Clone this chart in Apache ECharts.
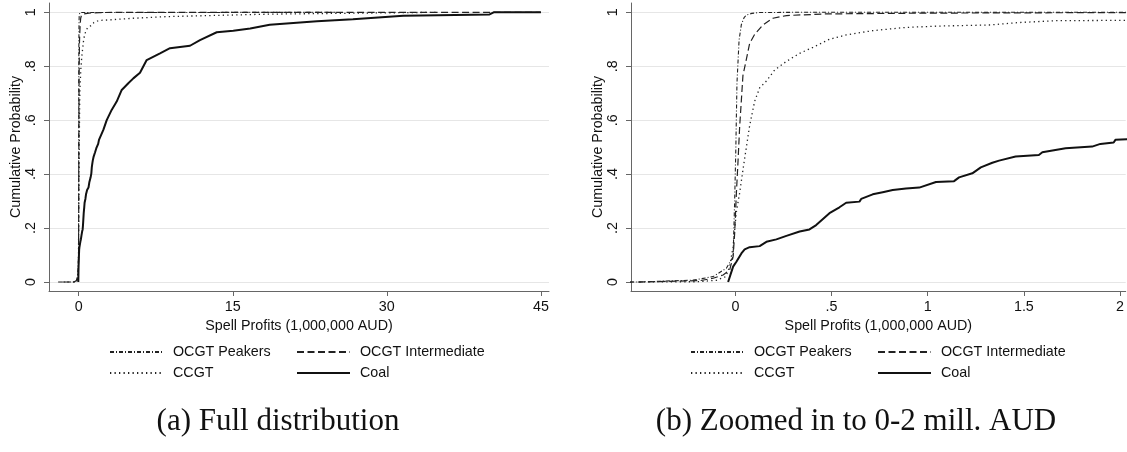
<!DOCTYPE html>
<html>
<head>
<meta charset="utf-8">
<script src="https://cdn.jsdelivr.net/npm/echarts@6/dist/echarts.min.js"></script>
<style>html,body{margin:0;padding:0;background:#fff}#c{width:1127px;height:452px}</style>
</head>
<body>
<div id="c"></div>
<script>
// ---- data (x = spell profits in million AUD, y = cumulative probability) ----
const seriesNames = ['OCGT Peakers', 'OCGT Intermediate', 'CCGT', 'Coal'];
const ocgtPeakers = [[-2.0,0],[-0.5,0],[-0.22,0.007],[-0.116,0.02],[-0.047,0.051],[-0.012,0.094],[-0.004,0.30],[0.002,0.49],[0.008,0.737],[0.019,0.897],[0.031,0.955],[0.045,0.98],[0.057,0.99],[0.085,0.996],[0.12,0.999],[0.3,1],[25,1]];
const ocgtIntermediate = [[-1.6,0],[-0.5,0],[-0.185,0.005],[-0.116,0.014],[-0.064,0.026],[-0.03,0.044],[-0.012,0.094],[-0.004,0.18],[0.005,0.33],[0.013,0.44],[0.022,0.575],[0.031,0.675],[0.039,0.765],[0.057,0.826],[0.074,0.885],[0.1,0.918],[0.143,0.953],[0.195,0.978],[0.265,0.988],[0.47,0.994],[1.0,0.997],[2.0,0.999],[5,1],[45,1]];
const ccgt = [[-0.5,0],[-0.2,0.001],[-0.1,0.006],[-0.05,0.02],[-0.03,0.057],[-0.012,0.131],[0.005,0.26],[0.022,0.33],[0.04,0.42],[0.057,0.50],[0.074,0.58],[0.1,0.67],[0.126,0.72],[0.161,0.745],[0.204,0.786],[0.265,0.818],[0.334,0.848],[0.403,0.87],[0.489,0.9],[0.576,0.916],[0.714,0.932],[0.887,0.944],[1.06,0.949],[1.32,0.953],[1.475,0.962],[1.665,0.969],[1.993,0.97],[3.05,0.972],[5.3,0.978],[8.6,0.984],[11.8,0.987],[18.3,0.993],[25,0.996],[35,1]];
const coal = [[-0.038,0],[-0.012,0.057],[0.005,0.075],[0.031,0.106],[0.048,0.121],[0.074,0.129],[0.126,0.133],[0.161,0.149],[0.213,0.158],[0.265,0.171],[0.334,0.187],[0.385,0.195],[0.42,0.211],[0.489,0.255],[0.541,0.277],[0.576,0.294],[0.645,0.298],[0.654,0.308],[0.714,0.325],[0.766,0.333],[0.818,0.341],[0.887,0.347],[0.956,0.35],[1.043,0.371],[1.137,0.374],[1.163,0.388],[1.232,0.403],[1.276,0.425],[1.336,0.442],[1.371,0.45],[1.457,0.465],[1.578,0.471],[1.596,0.481],[1.717,0.496],[1.855,0.502],[1.898,0.512],[1.967,0.517],[1.976,0.527],[2.07,0.53],[2.40,0.564],[2.73,0.60],[3.21,0.638],[3.70,0.669],[4.19,0.712],[4.83,0.737],[5.32,0.755],[5.97,0.776],[6.62,0.823],[7.92,0.848],[8.89,0.867],[10.84,0.876],[11.81,0.897],[13.44,0.926],[15.05,0.932],[16.7,0.94],[18.6,0.954],[23.2,0.967],[26.7,0.974],[31.6,0.987],[40.0,0.992],[40.4,1.0],[45,1]];
const xTicksA = [0, 15, 30, 45];
const xTicksB = [0, 0.5, 1, 1.5, 2];
const yTicks = [0, 0.2, 0.4, 0.6, 0.8, 1];
const xTitle = 'Spell Profits (1,000,000 AUD)';
const yTitle = 'Cumulative Probability';
const captions = ['(a) Full distribution', '(b) Zoomed in to 0-2 mill. AUD'];

// ---- styling ----
const AX = '#666';
const FONT = 'Liberation Sans';
const FS = 14.3;
const lineStyles = {
  'OCGT Peakers': {width: 1.1, type: [4, 2, 1, 2], color: '#222'},
  'OCGT Intermediate': {width: 1.2, type: [7, 3.5], color: '#222'},
  'CCGT': {width: 1.3, type: [1.3, 3.2], color: '#222'},
  'Coal': {width: 2, type: 'solid', color: '#111'}
};
const dataByName = {'OCGT Peakers': ocgtPeakers, 'OCGT Intermediate': ocgtIntermediate, 'CCGT': ccgt, 'Coal': coal};
const fmt = v => (v === 0 ? '0' : String(v).replace(/^0\./, '.'));

function xAxis(idx, min, max, ticks) {
  return {
    type: 'value', gridIndex: idx, min: min, max: max,
    axisLine: {show: true, onZero: false, lineStyle: {color: AX, width: 1}},
    axisTick: {show: true, length: 5, customValues: ticks, lineStyle: {color: AX}},
    axisLabel: {customValues: ticks, formatter: fmt, color: '#111', fontFamily: FONT, fontSize: FS, margin: 9},
    splitLine: {show: false},
    name: xTitle, nameLocation: 'middle', nameGap: 27,
    nameTextStyle: {color: '#111', fontFamily: FONT, fontSize: FS}
  };
}
function yAxis(idx) {
  return {
    type: 'value', gridIndex: idx, min: -0.0334, max: 1.0345,
    axisLine: {show: true, onZero: false, lineStyle: {color: AX, width: 1}},
    axisTick: {show: true, length: 5, customValues: yTicks, lineStyle: {color: AX}},
    axisLabel: {customValues: yTicks, formatter: fmt, rotate: 90, color: '#111', fontFamily: FONT, fontSize: FS, margin: 11},
    splitLine: {show: true, lineStyle: {color: '#e6e6e6', width: 1}},
    name: yTitle, nameLocation: 'middle', nameRotate: 90, nameGap: 26,
    nameTextStyle: {color: '#111', fontFamily: FONT, fontSize: FS}
  };
}

const series = [];
[0, 1].forEach(g => {
  seriesNames.forEach(n => {
    series.push({
      name: n, type: 'line', xAxisIndex: g, yAxisIndex: g,
      data: dataByName[n], showSymbol: false, symbol: 'none', smooth: false,
      clip: true, animation: false, lineStyle: lineStyles[n],
      itemStyle: {color: lineStyles[n].color},
      z: n === 'Coal' ? 3 : 2
    });
  });
});

function legend(name, left, top) {
  return {
    data: [name], left: left, top: top, selectedMode: false, orient: 'horizontal',
    itemWidth: 53, itemHeight: 10, itemGap: 0, padding: 0,
    itemStyle: {opacity: 0},
    textStyle: {color: '#111', fontFamily: FONT, fontSize: FS, padding: [0, 0, 0, 5]}
  };
}
const legends = [];
[[109, 296], [690, 877]].forEach(cols => {
  legends.push(legend('OCGT Peakers', cols[0], 345));
  legends.push(legend('OCGT Intermediate', cols[1], 345));
  legends.push(legend('CCGT', cols[0], 366));
  legends.push(legend('Coal', cols[1], 366));
});

const chart = echarts.init(document.getElementById('c'), null, {renderer: 'canvas'});
chart.setOption({
  animation: false,
  backgroundColor: '#fff',
  grid: [
    {left: 49, top: 3, width: 500, height: 288},
    {left: 631, top: 3, width: 496, height: 288}
  ],
  xAxis: [xAxis(0, -2.89, 45.79, xTicksA), xAxis(1, -0.543, 2.0296, xTicksB)],
  yAxis: [yAxis(0), yAxis(1)],
  legend: legends,
  series: series,
  graphic: [
    {type: 'text', x: 278, y: 422, style: {text: captions[0], textAlign: 'center', textVerticalAlign: 'middle', font: '31px "Liberation Serif"', fill: '#111'}},
    {type: 'text', x: 856, y: 422, style: {text: captions[1], textAlign: 'center', textVerticalAlign: 'middle', font: '31px "Liberation Serif"', fill: '#111'}}
  ]
});
</script>
</body>
</html>
